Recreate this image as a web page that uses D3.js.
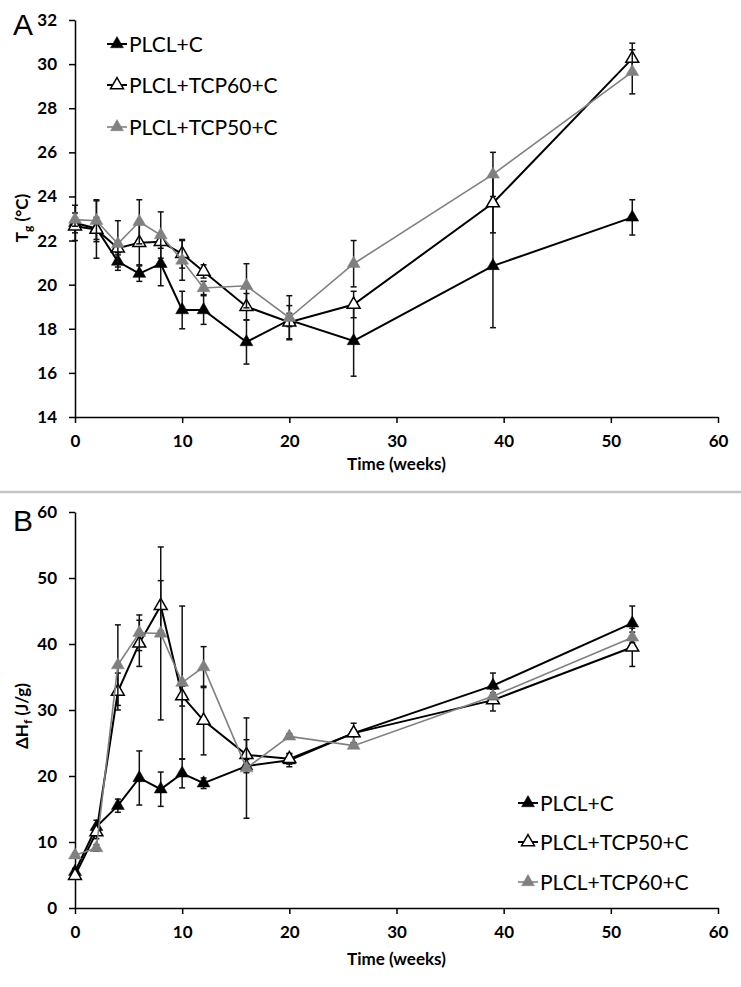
<!DOCTYPE html>
<html>
<head>
<meta charset="utf-8">
<script src="https://cdn.jsdelivr.net/npm/d3@7"></script>
<style>
  html, body { margin: 0; padding: 0; background: #fff; }
  svg { display: block; }
</style>
</head>
<body>
<script>
// ---------- DATA ----------
const weeks = [0, 2, 4, 6, 8, 10, 12, 16, 20, 26, 39, 52];
const xTicks = [0, 10, 20, 30, 40, 50, 60];

// Panel A: Tg (°C)
const aTicks = [14, 16, 18, 20, 22, 24, 26, 28, 30, 32];
const aNames = ["PLCL+C", "PLCL+TCP60+C", "PLCL+TCP50+C"];
const aBlack     = [22.8, 22.55, 21.05, 20.5, 20.95, 18.85, 18.85, 17.4, 18.4, 17.45, 20.85, 23.05];
const aBlackErr  = [0.8, 0.5, 0.4, 0.35, 1.0, 0.85, 0.65, 1.0, 0.3, 1.6, 2.8, 0.8];
const aWhite     = [22.65, 22.5, 21.65, 21.9, 21.95, 21.4, 20.6, 19.0, 18.3, 19.1, 23.7, 30.25];
const aWhiteErr  = [0.3, 1.3, 0.3, 1.0, 0.3, 0.65, 0.3, 0.6, 0.75, 0.6, 1.35, 0.7];
const aGray      = [22.95, 22.9, 21.85, 22.85, 22.25, 21.1, 19.85, 19.95, 18.5, 20.95, 25.0, 29.65];
const aGrayErr   = [0.3, 0.95, 1.05, 1.0, 1.05, 0.9, 0.3, 1.0, 1.0, 1.05, 1.0, 1.0];

// Panel B: ΔHf (J/g)
const bTicks = [0, 10, 20, 30, 40, 50, 60];
const bNames = ["PLCL+C", "PLCL+TCP50+C", "PLCL+TCP60+C"];
const bBlack     = [5.5, 12.3, 15.5, 19.7, 18.0, 20.4, 18.9, 21.5, 22.4, 26.5, 33.7, 43.15];
const bBlackErr  = [0.5, 1.0, 1.0, 4.1, 2.6, 2.2, 0.8, 1.0, 1.0, 0.5, 1.9, 2.6];
const bWhite     = [4.9, 11.5, 32.8, 40.1, 45.8, 32.1, 28.4, 23.2, 22.6, 26.5, 31.5, 39.5];
const bWhiteErr  = [0.5, 1.0, 2.8, 3.5, 3.8, 1.5, 5.2, 2.3, 0.8, 1.5, 1.65, 2.9];
const bGray      = [8.0, 9.1, 36.8, 41.7, 41.6, 34.15, 36.5, 21.2, 26.0, 24.6, 32.1, 41.0];
const bGrayErr   = [0.3, 0.5, 6.1, 2.7, 13.1, 11.6, 3.1, 7.6, 0.4, 0.4, 0.5, 0.8];

// ---------- STYLE ----------
const W = 741, H = 987;
const GRAY = "#808080";
const tickFont = "Lato, 'Liberation Sans', sans-serif";

const svg = d3.select("body").append("svg")
  .attr("width", W).attr("height", H)
  .attr("viewBox", `0 0 ${W} ${H}`);

// separator
svg.append("line").attr("x1", 0).attr("x2", W).attr("y1", 492).attr("y2", 492)
  .attr("stroke", "#c4c4c4").attr("stroke-width", 2.5);

const x = d3.scaleLinear().domain([0, 60]).range([75, 718]);
const tri = d3.symbol().type(d3.symbolTriangle).size(72);

function panel(cfg) {
  const y = d3.scaleLinear().domain(cfg.domain).range(cfg.range);
  const g = svg.append("g");

  // axes
  const ya = g.append("g").attr("transform", `translate(${x(0)},0)`)
    .call(d3.axisLeft(y).tickValues(cfg.yTicks).tickSize(6).tickPadding(12).tickSizeOuter(0));
  const xa = g.append("g").attr("transform", `translate(0,${y(cfg.domain[0])})`)
    .call(d3.axisBottom(x).tickValues(xTicks).tickSize(6).tickPadding(12).tickSizeOuter(0));
  [ya, xa].forEach(a => {
    a.selectAll("path, line").attr("stroke", "#000").attr("stroke-width", 1.5);
    a.selectAll("text").attr("font-family", tickFont).attr("font-weight", "bold")
      .attr("font-size", 17).attr("fill", "#000");
  });

  // axis titles
  g.append("text").attr("x", (x(0) + x(60)) / 2).attr("y", y(cfg.domain[0]) + cfg.titleDy)
    .attr("text-anchor", "middle").attr("font-family", tickFont).attr("font-weight", "bold")
    .attr("font-size", 17).text("Time (weeks)");
  const yl = g.append("text")
    .attr("transform", `translate(${cfg.ylab[0]},${cfg.ylab[1]}) rotate(-90)`)
    .attr("text-anchor", "middle").attr("font-family", tickFont).attr("font-weight", "bold")
    .attr("font-size", 17);
  yl.append("tspan").text(cfg.ylabMain);
  yl.append("tspan").attr("font-size", 12).attr("dy", 4).text(cfg.ylabSub);
  yl.append("tspan").attr("dy", -4).text(cfg.ylabRest);

  // panel letter
  g.append("text").attr("x", 13).attr("y", cfg.letterY)
    .attr("font-family", "'Liberation Sans', Arial, sans-serif").attr("font-size", 30)
    .text(cfg.letter);

  const line = d3.line().x((d, i) => x(weeks[i])).y(d => y(d));

  cfg.series.forEach(s => {
    const sg = g.append("g");
    // error bars
    s.v.forEach((v, i) => {
      const e = s.e[i];
      const cx = x(weeks[i]);
      sg.append("line").attr("x1", cx).attr("x2", cx).attr("y1", y(v - e)).attr("y2", y(v + e))
        .attr("stroke", "#111").attr("stroke-width", 1.5);
      [v - e, v + e].forEach(w => {
        sg.append("line").attr("x1", cx - 3).attr("x2", cx + 3).attr("y1", y(w)).attr("y2", y(w))
          .attr("stroke", "#111").attr("stroke-width", 1.5);
      });
    });
    sg.append("path").datum(s.v).attr("d", line).attr("fill", "none")
      .attr("stroke", s.line).attr("stroke-width", s.lw);
    sg.selectAll("path.m").data(s.v).enter().append("path").attr("class", "m")
      .attr("d", tri).attr("transform", (d, i) => `translate(${x(weeks[i])},${y(d)})`)
      .attr("fill", s.fill).attr("stroke", s.stroke).attr("stroke-width", s.sw);
  });

  // legend
  cfg.series.forEach((s, i) => {
    const ly = cfg.legY[i];
    const lx = cfg.legX;
    g.append("line").attr("x1", lx).attr("x2", lx + 20).attr("y1", ly).attr("y2", ly)
      .attr("stroke", s.line).attr("stroke-width", s.lw);
    g.append("path").attr("d", tri).attr("transform", `translate(${lx + 10},${ly})`)
      .attr("fill", s.fill).attr("stroke", s.stroke).attr("stroke-width", s.sw);
    g.append("text").attr("x", lx + 22).attr("y", ly).attr("dy", "0.36em")
      .attr("font-family", "Lato, 'Liberation Sans', sans-serif").attr("font-size", 21)
      .text(cfg.names[i]);
  });
}

const styleBlack = { line: "#000", lw: 2, fill: "#000", stroke: "#000", sw: 0.5 };
const styleWhite = { line: "#000", lw: 2, fill: "#fff", stroke: "#000", sw: 1.5 };
const styleGray  = { line: GRAY, lw: 1.6, fill: GRAY, stroke: GRAY, sw: 0.5 };

panel({
  domain: [14, 32], range: [417, 20], yTicks: aTicks, titleDy: 53,
  ylab: [28, 218], ylabMain: "T", ylabSub: "g", ylabRest: " (°C)",
  letter: "A", letterY: 35, names: aNames,
  legX: 107, legY: [44, 85, 127],
  series: [
    Object.assign({ v: aBlack, e: aBlackErr }, styleBlack),
    Object.assign({ v: aWhite, e: aWhiteErr }, styleWhite),
    Object.assign({ v: aGray, e: aGrayErr }, styleGray)
  ]
});

panel({
  domain: [0, 60], range: [908, 512], yTicks: bTicks, titleDy: 57,
  ylab: [28, 716], ylabMain: "ΔH", ylabSub: "f", ylabRest: " (J/g)",
  letter: "B", letterY: 531, names: bNames,
  legX: 518, legY: [803, 842, 882],
  series: [
    Object.assign({ v: bBlack, e: bBlackErr }, styleBlack),
    Object.assign({ v: bWhite, e: bWhiteErr }, styleWhite),
    Object.assign({ v: bGray, e: bGrayErr }, styleGray)
  ]
});
</script>
</body>
</html>
